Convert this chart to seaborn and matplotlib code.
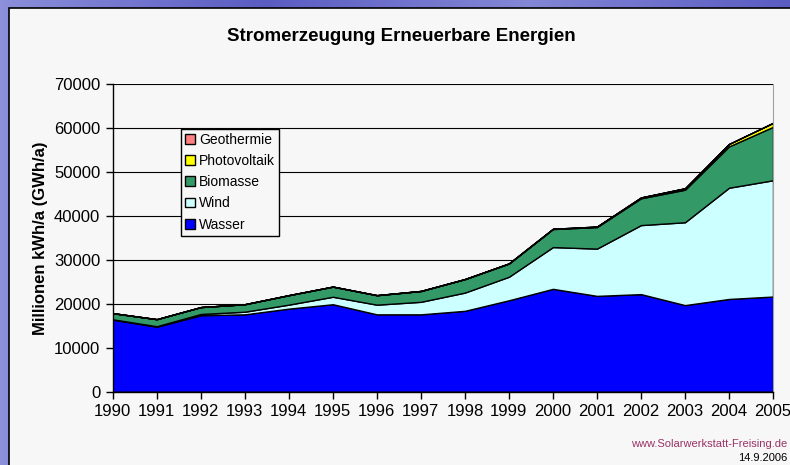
import numpy as np
import pandas as pd
import seaborn as sns
import matplotlib.pyplot as plt
from matplotlib.patches import Rectangle

years = list(range(1990, 2006))
wasser = [16400, 14800, 17400, 17600, 18900, 19900, 17600, 17600,
          18400, 20800, 23400, 21800, 22200, 19700, 21100, 21650]
wind = [70, 100, 280, 600, 910, 1700, 2200, 2850,
        4150, 5350, 9500, 10750, 15700, 18850, 25300, 26450]
biomasse = [1400, 1600, 1570, 1700, 2150, 2300, 2150, 2450,
            3050, 3000, 4100, 4900, 6100, 7400, 9400, 12150]
photovoltaik = [1, 2, 3, 6, 8, 11, 16, 26, 32, 42, 64, 116, 188, 333, 557, 900]
geothermie = [0] * 14 + [0.2, 0.2]

series = ["Wasser", "Wind", "Biomasse", "Photovoltaik", "Geothermie"]
colors = ["#0000FF", "#CCFFFF", "#339966", "#FFFF00", "#FF8080"]
df = pd.DataFrame({"Jahr": years, "Wasser": wasser, "Wind": wind,
                   "Biomasse": biomasse, "Photovoltaik": photovoltaik,
                   "Geothermie": geothermie})

sns.set_style("white")
plt.rcParams['font.family'] = ['Liberation Sans', 'DejaVu Sans']
plt.rcParams.update({"text.color": "black", "axes.labelcolor": "black",
                     "xtick.color": "black", "ytick.color": "black"})

fig = plt.figure(figsize=(7.9, 4.65), dpi=100)

# background: blue frame with light panel
bg = fig.add_axes([0, 0, 1, 1], zorder=-10)
grad = np.linspace(0, 1, 256)
img = np.outer(np.ones(10), grad)
bg.imshow(img, extent=[0, 1, 0, 1], aspect="auto", cmap=sns.blend_palette(
    ["#8C8FDA", "#5A5CC2", "#8486D6", "#5A5CC2"], as_cmap=True))
bg.add_patch(Rectangle((9 / 790, -0.01), 1, 1 - 8 / 465 + 0.01,
                       transform=bg.transAxes, facecolor="#F7F7F7",
                       edgecolor="black", linewidth=1.2))
bg.set_xlim(0, 1)
bg.set_ylim(0, 1)
bg.axis("off")

ax = fig.add_axes([0.1427, 0.1576, 0.9785 - 0.1427, 0.8194 - 0.1576])
ax.set_facecolor("#F7F7F7")
ax.stackplot(df["Jahr"], [df[s] for s in series], colors=colors,
             labels=series, edgecolor="black", linewidth=1.0)

ax.set_xlim(1990, 2005)
ax.set_ylim(0, 70000)
ax.set_xticks(years)
ax.set_yticks(range(0, 70001, 10000))
ax.tick_params(axis="both", labelsize=12, length=5, width=1, color="black",
               labelcolor="black", direction="out", left=True, bottom=True,
               pad=4)
ax.yaxis.grid(True, color="black", linewidth=0.8)
ax.set_axisbelow(True)
for s in ["left", "bottom"]:
    ax.spines[s].set_color("black")
    ax.spines[s].set_linewidth(1)
ax.spines["top"].set_visible(False)
ax.spines["right"].set_color("#A0A0A0")

ax.set_ylabel("Millionen kWh/a (GWh/a)", fontsize=12, fontweight="bold",
              labelpad=4)
fig.text(0.508, 0.922, "Stromerzeugung Erneuerbare Energien", ha="center",
         va="center", fontsize=13.5, fontweight="bold")

handles, labels = ax.get_legend_handles_labels()
leg = ax.legend(handles[::-1], labels[::-1], loc="upper left",
                bbox_to_anchor=(0.103, 0.855), fontsize=10, frameon=True,
                fancybox=False, framealpha=1, edgecolor="black",
                handlelength=0.7, handleheight=0.7, handletextpad=0.3,
                borderpad=0.3, labelspacing=0.52, borderaxespad=0)
leg.get_frame().set_facecolor("#F7F7F7")
leg.get_frame().set_linewidth(1)

fig.text(0.997, 0.046, "www.Solarwerkstatt-Freising.de", ha="right",
         va="center", fontsize=8, color="#993366")
fig.text(0.997, 0.016, "14.9.2006", ha="right", va="center", fontsize=8,
         color="black")

fig.savefig("out.png", dpi=100)
